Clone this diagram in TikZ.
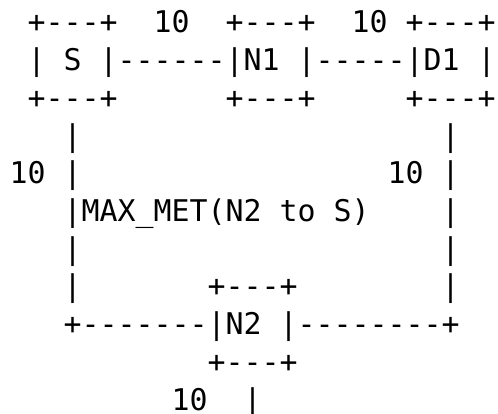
\documentclass[tikz,border=0pt]{standalone}
\usepackage{fontspec}
\setmonofont{DejaVu Sans Mono}
\tikzset{
  asc/.style={anchor=base west, inner sep=0pt, outer sep=0pt, text=black,
    font=\fontsize{29.9}{36}\selectfont\ttfamily}
}
\newcommand{\cx}[1]{\fpeval{9.7+18*#1}}
\newcommand{\ry}[1]{\fpeval{413-33-37.7*(#1-1)}}
\begin{document}
\begin{tikzpicture}[x=1pt,y=1pt]
\useasboundingbox[fill=white] (0,0) rectangle (498,413);
% row 1
\node[asc] (r1a) at (\cx{1},\ry{1}) {+---+};
\node[asc] (r1b) at (\cx{8},\ry{1}) {10};
\node[asc] (r1c) at (\cx{12},\ry{1}) {+---+};
\node[asc] (r1d) at (\cx{19},\ry{1}) {10};
\node[asc] (r1e) at (\cx{22},\ry{1}) {+---+};
% row 2
\node[asc] (r2a) at (\cx{1},\ry{2}) {| S |------|N1 |-----|D1 |};
% row 3
\node[asc] (r3a) at (\cx{1},\ry{3}) {+---+};
\node[asc] (r3b) at (\cx{12},\ry{3}) {+---+};
\node[asc] (r3c) at (\cx{22},\ry{3}) {+---+};
% row 4
\node[asc] (r4a) at (\cx{3},\ry{4}) {|};
\node[asc] (r4b) at (\cx{24},\ry{4}) {|};
% row 5
\node[asc] (r5a) at (\cx{0},\ry{5}) {10};
\node[asc] (r5b) at (\cx{3},\ry{5}) {|};
\node[asc] (r5c) at (\cx{21},\ry{5}) {10};
\node[asc] (r5d) at (\cx{24},\ry{5}) {|};
% row 6
\node[asc] (r6a) at (\cx{3},\ry{6}) {|MAX\_MET(N2 to S)};
\node[asc] (r6b) at (\cx{24},\ry{6}) {|};
% row 7
\node[asc] (r7a) at (\cx{3},\ry{7}) {|};
\node[asc] (r7b) at (\cx{24},\ry{7}) {|};
% row 8
\node[asc] (r8a) at (\cx{3},\ry{8}) {|};
\node[asc] (r8b) at (\cx{11},\ry{8}) {+---+};
\node[asc] (r8c) at (\cx{24},\ry{8}) {|};
% row 9
\node[asc] (r9a) at (\cx{3},\ry{9}) {+-------|N2 |--------+};
% row 10
\node[asc] (r10a) at (\cx{11},\ry{10}) {+---+};
% row 11
\node[asc] (r11a) at (\cx{9},\ry{11}) {10};
\node[asc] (r11b) at (\cx{13},\ry{11}) {|};
\end{tikzpicture}
\end{document}
